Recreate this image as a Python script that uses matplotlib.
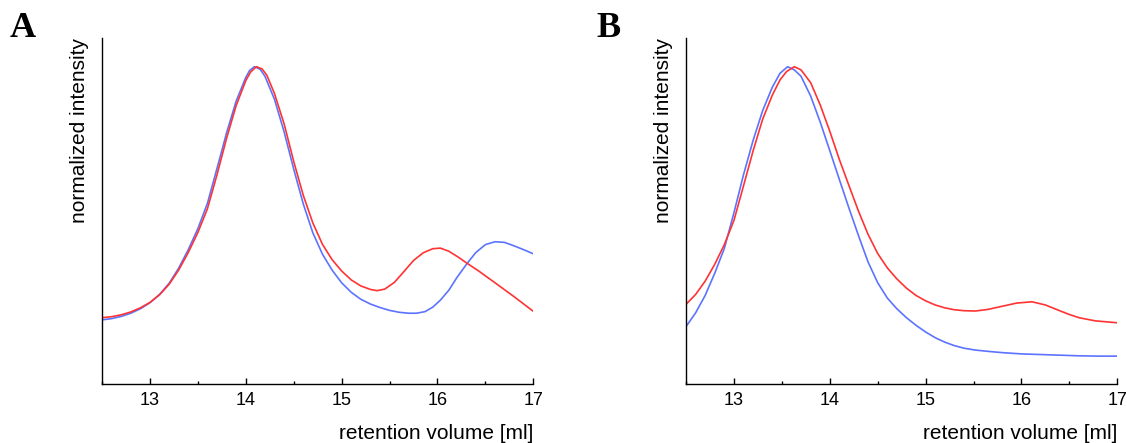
import matplotlib
matplotlib.use("Agg")
import matplotlib.pyplot as plt
from matplotlib.ticker import MultipleLocator

# ---- Data ----
# Panel A
a_red_x = [12.50, 12.60, 12.70, 12.80, 12.90, 13.00, 13.10, 13.20, 13.30, 13.40, 13.50, 13.60,
           13.70, 13.80, 13.90, 14.00, 14.05, 14.11, 14.17, 14.22, 14.30, 14.40, 14.50, 14.60,
           14.70, 14.80, 14.90, 15.00, 15.10, 15.20, 15.30, 15.37, 15.45, 15.55, 15.65, 15.75,
           15.85, 15.95, 16.03, 16.12, 16.22, 16.31, 16.43, 16.60, 16.80, 17.00]
a_red_y = [0.210, 0.213, 0.219, 0.228, 0.241, 0.258, 0.282, 0.315, 0.360, 0.415, 0.478, 0.553,
           0.660, 0.775, 0.878, 0.956, 0.983, 1.000, 0.993, 0.973, 0.915, 0.820, 0.702, 0.595,
           0.508, 0.441, 0.393, 0.357, 0.329, 0.310, 0.299, 0.295, 0.300, 0.321, 0.355, 0.390,
           0.414, 0.427, 0.429, 0.419, 0.400, 0.381, 0.357, 0.320, 0.276, 0.230]
a_blue_x = [12.50, 12.60, 12.70, 12.80, 12.90, 13.00, 13.10, 13.20, 13.30, 13.40, 13.50, 13.60,
            13.70, 13.80, 13.90, 14.00, 14.04, 14.09, 14.15, 14.20, 14.30, 14.40, 14.50, 14.60,
            14.70, 14.80, 14.90, 15.00, 15.10, 15.20, 15.30, 15.40, 15.50, 15.60, 15.70, 15.78,
            15.87, 15.95, 16.03, 16.12, 16.20, 16.31, 16.40, 16.50, 16.60, 16.70, 16.80, 16.90,
            17.00]
a_blue_y = [0.203, 0.207, 0.214, 0.224, 0.238, 0.257, 0.283, 0.318, 0.366, 0.424, 0.490, 0.570,
            0.680, 0.792, 0.892, 0.966, 0.988, 1.000, 0.992, 0.970, 0.897, 0.795, 0.678, 0.568,
            0.477, 0.410, 0.360, 0.320, 0.290, 0.268, 0.253, 0.242, 0.233, 0.227, 0.224, 0.224,
            0.229, 0.243, 0.265, 0.297, 0.335, 0.381, 0.415, 0.440, 0.449, 0.447, 0.436, 0.424,
            0.411]

# Panel B
b_red_x = [12.50, 12.60, 12.70, 12.80, 12.90, 13.00, 13.10, 13.20, 13.30, 13.40, 13.48, 13.55,
           13.63, 13.70, 13.80, 13.90, 14.00, 14.10, 14.20, 14.30, 14.40, 14.50, 14.60, 14.70,
           14.80, 14.90, 15.00, 15.10, 15.20, 15.30, 15.40, 15.52, 15.65, 15.80, 15.95, 16.11,
           16.25, 16.39, 16.50, 16.60, 16.77, 17.00]
b_red_y = [0.252, 0.283, 0.325, 0.378, 0.440, 0.516, 0.625, 0.735, 0.835, 0.910, 0.958, 0.985,
           1.000, 0.990, 0.950, 0.880, 0.797, 0.708, 0.626, 0.545, 0.472, 0.412, 0.367, 0.332,
           0.303, 0.280, 0.263, 0.250, 0.241, 0.235, 0.232, 0.231, 0.236, 0.246, 0.256, 0.260,
           0.250, 0.233, 0.220, 0.210, 0.200, 0.194]
b_blue_x = [12.50, 12.60, 12.70, 12.80, 12.90, 13.00, 13.10, 13.20, 13.30, 13.40, 13.48, 13.56,
            13.63, 13.70, 13.80, 13.90, 14.00, 14.10, 14.20, 14.30, 14.40, 14.50, 14.60, 14.70,
            14.80, 14.90, 15.00, 15.10, 15.20, 15.30, 15.40, 15.52, 15.65, 15.80, 16.00, 16.20,
            16.40, 16.60, 16.80, 17.00]
b_blue_y = [0.182, 0.225, 0.280, 0.350, 0.428, 0.540, 0.660, 0.768, 0.862, 0.935, 0.979, 1.000,
            0.990, 0.970, 0.908, 0.826, 0.736, 0.645, 0.555, 0.468, 0.385, 0.320, 0.272, 0.238,
            0.210, 0.186, 0.165, 0.147, 0.133, 0.122, 0.114, 0.108, 0.104, 0.100, 0.096, 0.094,
            0.092, 0.090, 0.089, 0.089]

x_ticks = [13, 14, 15, 16, 17]
x_tick_labels = ["13", "14", "15", "16", "17"]
panel_letters = ["A", "B"]
x_label = "retention volume [ml]"
y_label = "normalized intensity"

RED = "#ff3333"
BLUE = "#5c73ff"

W, H = 1127, 443
plt.rcParams["font.family"] = ["Liberation Sans", "DejaVu Sans"]
fig = plt.figure(figsize=(W / 100, H / 100), dpi=100)

ax_w = 431.3 / W
ax_h = 346.1 / H
ax_b = (H - 384.4) / H
lefts = [102 / W, 686 / W]
letter_x = [10 / W, 596 / W]

panels = [
    (a_red_x, a_red_y, a_blue_x, a_blue_y),
    (b_red_x, b_red_y, b_blue_x, b_blue_y),
]

for i, (rx, ry, bx, by) in enumerate(panels):
    ax = fig.add_axes([lefts[i], ax_b, ax_w, ax_h])
    ax.plot(bx, by, color=BLUE, lw=1.2, solid_joinstyle="round", solid_capstyle="round")
    ax.plot(rx, ry, color=RED, lw=1.2, solid_joinstyle="round", solid_capstyle="round")
    ax.set_xlim(12.5, 17)
    ax.set_ylim(0, 1.0894)
    ax.spines["top"].set_visible(False)
    ax.spines["right"].set_visible(False)
    ax.spines["left"].set_linewidth(1.0)
    ax.spines["bottom"].set_linewidth(1.0)
    ax.set_yticks([])
    ax.set_xticks(x_ticks)
    ax.set_xticklabels(x_tick_labels)
    ax.xaxis.set_minor_locator(MultipleLocator(0.5))
    ax.tick_params(axis="x", which="major", direction="in", length=4, width=1.0,
                   labelsize=13, pad=5.5)
    ax.tick_params(axis="x", which="minor", direction="in", length=2, width=1.0)
    # x label, right aligned to axes end
    fig.text(lefts[i] + ax_w, 1 - 439 / H, x_label, ha="right", va="baseline",
             fontsize=15)
    # y label, top aligned to axes top
    ax.text(-0.052, 1.0, y_label, transform=ax.transAxes, ha="center", va="top",
            rotation=90, fontsize=15)
    fig.text(letter_x[i], 1 - 37 / H, panel_letters[i], ha="left", va="baseline",
             fontsize=26, fontweight="bold", family="Liberation Serif")

fig.savefig("out.png", dpi=100)
